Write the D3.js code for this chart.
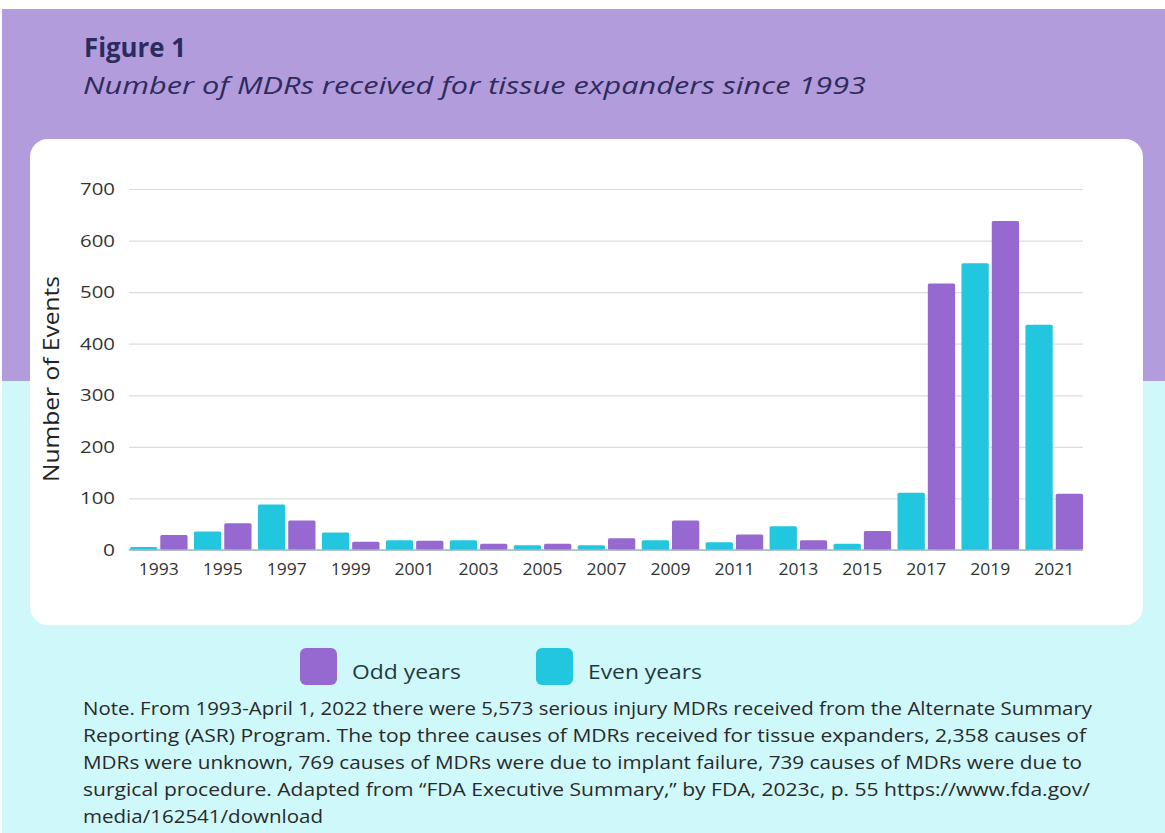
<!DOCTYPE html>
<html>
<head>
<meta charset="utf-8">
<script src="https://cdn.jsdelivr.net/npm/d3@7"></script>
<style>
  body { margin: 0; background: #fff; }
  svg { display: block; font-family: "Open Sans", "Noto Sans", sans-serif; }
</style>
</head>
<body>
<div id="chart"></div>
<script>
////// DATA //////
var groups = ["1993","1995","1997","1999","2001","2003","2005","2007","2009","2011","2013","2015","2017","2019","2021"];
var evenVals = [6, 36, 88, 34, 19, 19, 9, 9, 19, 15, 46, 12, 111, 556, 437];
var oddVals  = [29, 52, 57, 16, 18, 12, 12, 23, 57, 30, 19, 37, 517, 638, 109];
var yTicks = [0, 100, 200, 300, 400, 500, 600, 700];
var seriesKeys = ["even", "odd"];
var legendLabels = ["Odd years", "Even years"];
var noteLines = [
  "Note. From 1993-April 1, 2022 there were 5,573 serious injury MDRs received from the Alternate Summary",
  "Reporting (ASR) Program. The top three causes of MDRs received for tissue expanders, 2,358 causes of",
  "MDRs were unknown, 769 causes of MDRs were due to implant failure, 739 causes of MDRs were due to",
  "surgical procedure. Adapted from \u201cFDA Executive Summary,\u201d by FDA, 2023c, p. 55 https://www.fda.gov/",
  "media/162541/download"
];
///////////////////

var W = 1165, H = 833;
var purple = "#9569cf", teal = "#22c6de";

var svg = d3.select("#chart").append("svg")
  .attr("width", W).attr("height", H);

// backgrounds
svg.append("rect").attr("x", 2).attr("y", 9).attr("width", W - 2).attr("height", 372).attr("fill", "#b39cdc");
svg.append("rect").attr("x", 2).attr("y", 381).attr("width", W - 2).attr("height", H - 381).attr("fill", "#cff8fb");

// card
svg.append("rect").attr("x", 30).attr("y", 139).attr("width", 1113).attr("height", 486)
  .attr("rx", 18).attr("fill", "#fff");

// titles
svg.append("text").attr("x", 84).attr("y", 57)
  .style("font-size", "26px").style("font-weight", 700).attr("fill", "#2b2c5e")
  .attr("textLength", 102).attr("lengthAdjust", "spacingAndGlyphs")
  .text("Figure 1");
svg.append("text").attr("x", 83).attr("y", 94)
  .style("font-size", "24px").style("font-style", "italic").attr("fill", "#2e2b5c")
  .attr("textLength", 783).attr("lengthAdjust", "spacingAndGlyphs")
  .text("Number of MDRs received for tissue expanders since 1993");

// scales
var x0 = d3.scaleBand().domain(groups).range([130, 1083]).paddingInner(0.1).paddingOuter(0);
var x1 = d3.scaleBand().domain(seriesKeys).range([0, x0.bandwidth()]).paddingInner(0.1);
var y = d3.scaleLinear().domain([0, 700]).range([550, 189]);

// gridlines + y axis
var yAxis = svg.append("g").attr("transform", "translate(129,0)")
  .call(d3.axisLeft(y).tickValues(yTicks).tickSize(-954).tickPadding(14));
yAxis.select(".domain").remove();
yAxis.selectAll(".tick line").attr("stroke", "#dcdcdc").attr("stroke-width", 1.2);
yAxis.selectAll(".tick text").style("font-size", "17px").attr("fill", "#333")
  .style("font-family", "'Open Sans', sans-serif")
  .attr("textLength", function (d) { return d == 0 ? 12 : 35; })
  .attr("lengthAdjust", "spacingAndGlyphs");

// bars
var rows = groups.map(function (g, i) { return { g: g, even: evenVals[i], odd: oddVals[i] }; });
var grp = svg.append("g").selectAll("g").data(rows).enter().append("g")
  .attr("transform", function (d) { return "translate(" + x0(d.g) + ",0)"; });
grp.selectAll("rect")
  .data(function (d) { return seriesKeys.map(function (k) { return { k: k, v: d[k] }; }); })
  .enter().append("rect")
  .attr("x", function (d) { return x1(d.k); })
  .attr("y", function (d) { return y(d.v); })
  .attr("width", x1.bandwidth())
  .attr("height", function (d) { return y(0) - y(d.v); })
  .attr("rx", 1.5)
  .attr("fill", function (d) { return d.k == "odd" ? purple : teal; });

// baseline
svg.append("line").attr("x1", 129).attr("x2", 1083).attr("y1", y(0)).attr("y2", y(0))
  .attr("stroke", "#a9b4bd").attr("stroke-width", 1.3);

// x axis
var xAxis = svg.append("g").attr("transform", "translate(0," + y(0) + ")")
  .call(d3.axisBottom(x0).tickSize(0).tickPadding(13));
xAxis.select(".domain").remove();
xAxis.selectAll(".tick text").style("font-size", "17px").attr("fill", "#333")
  .style("font-family", "'Open Sans', sans-serif")
  .attr("textLength", 40).attr("lengthAdjust", "spacingAndGlyphs");

// y axis title
svg.append("text").attr("transform", "translate(59,379) rotate(-90)")
  .attr("text-anchor", "middle").style("font-size", "22px").attr("fill", "#222")
  .attr("textLength", 206).attr("lengthAdjust", "spacingAndGlyphs")
  .text("Number of Events");

// legend
var legendX = [300, 536];
var legendColours = [purple, teal];
var legendWidths = [109, 114];
var leg = svg.append("g").selectAll("g").data(legendLabels).enter().append("g")
  .attr("transform", function (d, i) { return "translate(" + legendX[i] + ",648)"; });
leg.append("rect").attr("width", 37).attr("height", 37).attr("rx", 6)
  .attr("fill", function (d, i) { return legendColours[i]; });
leg.append("text").attr("x", 52).attr("y", 31)
  .style("font-size", "20px").attr("fill", "#1f3a3d")
  .attr("textLength", function (d, i) { return legendWidths[i]; })
  .attr("lengthAdjust", "spacingAndGlyphs")
  .text(function (d) { return d; });

// note
var noteWidths = [1009, 1003, 999, 1007, 240];
svg.append("g").selectAll("text").data(noteLines).enter().append("text")
  .attr("x", 83)
  .attr("y", function (d, i) { return 715 + i * 27; })
  .style("font-size", "17.5px").attr("fill", "#2a2a2a")
  .attr("textLength", function (d, i) { return noteWidths[i]; })
  .attr("lengthAdjust", "spacingAndGlyphs")
  .text(function (d) { return d; });
</script>
</body>
</html>
